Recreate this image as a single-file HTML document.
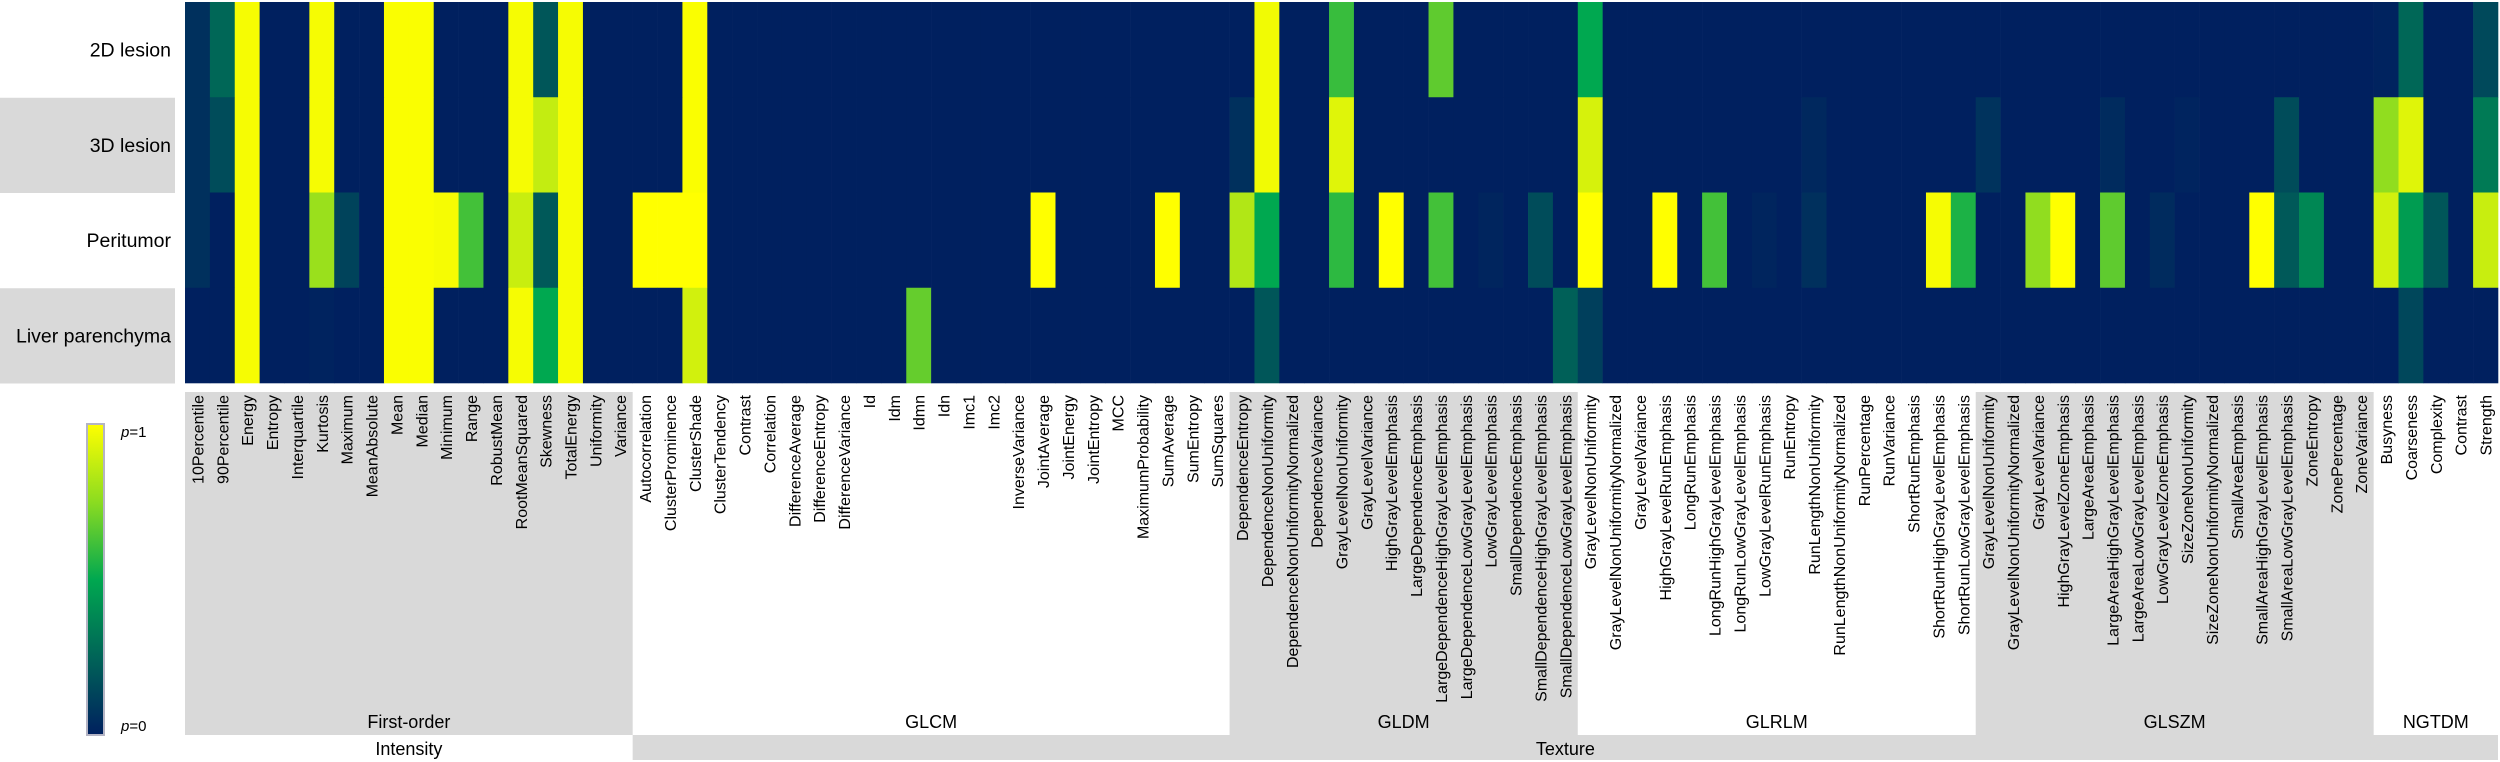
<!DOCTYPE html>
<html lang="en">
<head>
<meta charset="utf-8">
<title>Radiomics feature heatmap</title>
<style>
html,body{margin:0;padding:0;background:#fff;width:2500px;height:762px;overflow:hidden}
svg{display:block}
text{font-family:"Liberation Sans",sans-serif;fill:#000}
</style>
</head>
<body>
<svg id="chart" xmlns="http://www.w3.org/2000/svg" width="2500" height="762" viewBox="0 0 2500 762">
  <defs>
    <linearGradient id="colorbar-gradient" x1="0" y1="1" x2="0" y2="0">
      <stop offset="0" stop-color="#00205f"/>
      <stop offset="0.5" stop-color="#00a850"/>
      <stop offset="0.75" stop-color="#8cdc20"/>
      <stop offset="1" stop-color="#ffff00"/>
    </linearGradient>
  </defs>
  <g id="bands"></g>
  <g id="cells"></g>
  <g id="rowlabels"></g>
  <g id="featlabels"></g>
  <g id="grouplabels"></g>
  <g>
    <rect x="87" y="424" width="17" height="311" fill="url(#colorbar-gradient)" stroke="#b4b4c4" stroke-width="2"/>
    <text x="121" y="437" font-size="15"><tspan font-style="italic">p</tspan>=1</text>
    <text x="121" y="731" font-size="15"><tspan font-style="italic">p</tspan>=0</text>
  </g>
</svg>
<script>
const rowNames = ["2D lesion", "3D lesion", "Peritumor", "Liver parenchyma"];
const features = ["10Percentile","90Percentile","Energy","Entropy","Interquartile","Kurtosis","Maximum","MeanAbsolute","Mean","Median","Minimum","Range","RobustMean","RootMeanSquared","Skewness","TotalEnergy","Uniformity","Variance",
"Autocorrelation","ClusterProminence","ClusterShade","ClusterTendency","Contrast","Correlation","DifferenceAverage","DifferenceEntropy","DifferenceVariance","Id","Idm","Idmn","Idn","Imc1","Imc2","InverseVariance","JointAverage","JointEnergy","JointEntropy","MCC","MaximumProbability","SumAverage","SumEntropy","SumSquares",
"DependenceEntropy","DependenceNonUniformity","DependenceNonUniformityNormalized","DependenceVariance","GrayLevelNonUniformity","GrayLevelVariance","HighGrayLevelEmphasis","LargeDependenceEmphasis","LargeDependenceHighGrayLevelEmphasis","LargeDependenceLowGrayLevelEmphasis","LowGrayLevelEmphasis","SmallDependenceEmphasis","SmallDependenceHighGrayLevelEmphasis","SmallDependenceLowGrayLevelEmphasis",
"GrayLevelNonUniformity","GrayLevelNonUniformityNormalized","GrayLevelVariance","HighGrayLevelRunEmphasis","LongRunEmphasis","LongRunHighGrayLevelEmphasis","LongRunLowGrayLevelEmphasis","LowGrayLevelRunEmphasis","RunEntropy","RunLengthNonUniformity","RunLengthNonUniformityNormalized","RunPercentage","RunVariance","ShortRunEmphasis","ShortRunHighGrayLevelEmphasis","ShortRunLowGrayLevelEmphasis",
"GrayLevelNonUniformity","GrayLevelNonUniformityNormalized","GrayLevelVariance","HighGrayLevelZoneEmphasis","LargeAreaEmphasis","LargeAreaHighGrayLevelEmphasis","LargeAreaLowGrayLevelEmphasis","LowGrayLevelZoneEmphasis","SizeZoneNonUniformity","SizeZoneNonUniformityNormalized","SmallAreaEmphasis","SmallAreaHighGrayLevelEmphasis","SmallAreaLowGrayLevelEmphasis","ZoneEntropy","ZonePercentage","ZoneVariance",
"Busyness","Coarseness","Complexity","Contrast","Strength"];
const lesion2D = [.06,.26,.98,0,0,.98,0,0,.99,.99, 0,0,0,.98,.2,.98,0,0,0,0, .99,0,0,0,0,0,0,0,0,0, 0,0,0,0,0,0,0,0,0,0, 0,0,0,.97,0,0,.6,0,0,0, .67,0,0,0,0,0,.5,0,0,0, 0,0,0,0,0,0,0,0,0,0, 0,0,0,0,0,0,0,0,0,0, 0,0,0,0,0,0,0,0,.01,.26, 0,0,.15];
const lesion3D = [.06,.16,.98,0,0,.98,0,0,.99,.99, 0,0,0,.98,.87,.98,0,0,0,0, .99,0,0,0,0,0,0,0,0,0, 0,0,0,0,0,0,0,0,0,0, 0,0,.06,.97,0,0,.93,0,0,0, 0,0,0,0,0,0,.91,0,0,0, 0,0,0,0,0,.03,0,0,0,0, 0,0,.07,0,0,0,0,.04,0,0, .015,0,0,0,.16,0,0,0,.76,.93, 0,0,.33];
const peritumor = [.06,0,.98,0,0,.78,.13,0,.99,.99, .98,.62,0,.88,.21,.98,0,0,1,1, 1,0,0,0,0,0,0,0,0,0, 0,0,0,0,1,0,0,0,0,1, 0,0,.83,.5,0,0,.58,0,1,0, .62,0,.02,0,.16,0,1,0,0,1, 0,.62,0,.02,0,.06,0,0,0,0, .98,.55,0,0,.76,1,0,.67,0,.04, 0,0,0,1,.21,.38,0,0,.9,.455, .2,0,.88];
const liverParenchyma = [0,0,.98,0,0,.01,0,0,.99,.99, 0,0,0,.98,.5,.98,0,0,0,0, .9,0,0,0,0,0,0,0,0,.68, 0,0,0,0,0,0,0,0,0,0, 0,0,0,.2,0,0,0,0,0,0, 0,0,0,0,0,.235,.115,0,0,0, 0,0,0,0,0,0,0,0,0,0, 0,0,0,0,0,0,0,0,0,0, 0,0,0,0,0,0,0,0,0,.145, 0,0,0];
const seriesByRow = [lesion2D, lesion3D, peritumor, liverParenchyma];
const subgroupNames = ["First-order", "GLCM", "GLDM", "GLRLM", "GLSZM", "NGTDM"];
const subgroupCounts = [18, 24, 14, 16, 16, 5];
const topgroupNames = ["Intensity", "Texture"];
const topgroupCounts = [18, 75];

const NS = "http://www.w3.org/2000/svg";
const plot = {left: 185, right: 2498, top: 2, bottom: 383};
const xAt = i => plot.left + i * (plot.right - plot.left) / features.length;
const yAt = r => plot.top + r * (plot.bottom - plot.top) / rowNames.length;
const colorStops = [[0,[0,32,95]],[.5,[0,168,80]],[.75,[140,220,32]],[1,[255,255,0]]];
function colorOf(v) {
  for (let k = 1; k < colorStops.length; k++) {
    if (v <= colorStops[k][0]) {
      const a = colorStops[k-1], b = colorStops[k];
      const t = (v - a[0]) / (b[0] - a[0]);
      return "rgb(" + a[1].map((c, j) => Math.round(c + (b[1][j] - c) * t)).join(",") + ")";
    }
  }
  return "rgb(255,255,0)";
}
function make(tag, parent, attrs) {
  const el = document.createElementNS(NS, tag);
  for (const key in attrs) el.setAttribute(key, attrs[key]);
  parent.appendChild(el);
  return el;
}
const bands = document.getElementById("bands");
const cells = document.getElementById("cells");
const rowLabels = document.getElementById("rowlabels");
const featLabels = document.getElementById("featlabels");
const groupLabels = document.getElementById("grouplabels");

rowNames.forEach((name, r) => {
  if (r % 2 === 1) {
    const band = make("rect", bands, {x: 0, y: yAt(r) + 0.5, width: 175, height: yAt(r + 1) - yAt(r), fill: "#d9d9d9"});
    
    
  }
  const label = make("text", rowLabels, {x: 171, y: yAt(r) + (yAt(1) - yAt(0)) / 2 + 7, "font-size": 19.5, "text-anchor": "end"});
  
  
  label.textContent = name;
});

let start = 0;
subgroupNames.forEach((name, g) => {
  const end = start + subgroupCounts[g];
  if (g % 2 === 0) {
    const band = make("rect", bands, {x: xAt(start), y: 392, width: xAt(end) - xAt(start), height: 343, fill: "#d9d9d9"});
    
    
  }
  const label = make("text", groupLabels, {x: (xAt(start) + xAt(end)) / 2, y: 728, "font-size": 18, "text-anchor": "middle"});
  
  
  label.textContent = name;
  start = end;
});

start = 0;
topgroupNames.forEach((name, g) => {
  const end = start + topgroupCounts[g];
  if (g === 1) {
    const band = make("rect", bands, {x: xAt(start), y: 735, width: xAt(end) - xAt(start), height: 25, fill: "#d9d9d9"});
    
    
  }
  const label = make("text", groupLabels, {x: (xAt(start) + xAt(end)) / 2, y: 755, "font-size": 18, "text-anchor": "middle"});
  
  
  label.textContent = name;
  start = end;
});

seriesByRow.forEach((values, r) => {
  values.forEach((v, i) => {
    const cell = make("rect", cells, {x: xAt(i), y: yAt(r), width: xAt(i + 1) - xAt(i) + 0.3, height: yAt(r + 1) - yAt(r) + 0.3, fill: colorOf(v)});
    
    
  });
});

features.forEach((name, i) => {
  const cx = (xAt(i) + xAt(i + 1)) / 2 + 6;
  const label = make("text", featLabels, {transform: "translate(" + cx + ",395) rotate(-90)", "font-size": 16, "text-anchor": "end"});
  
  
  label.textContent = name;
});
</script>
</body>
</html>
